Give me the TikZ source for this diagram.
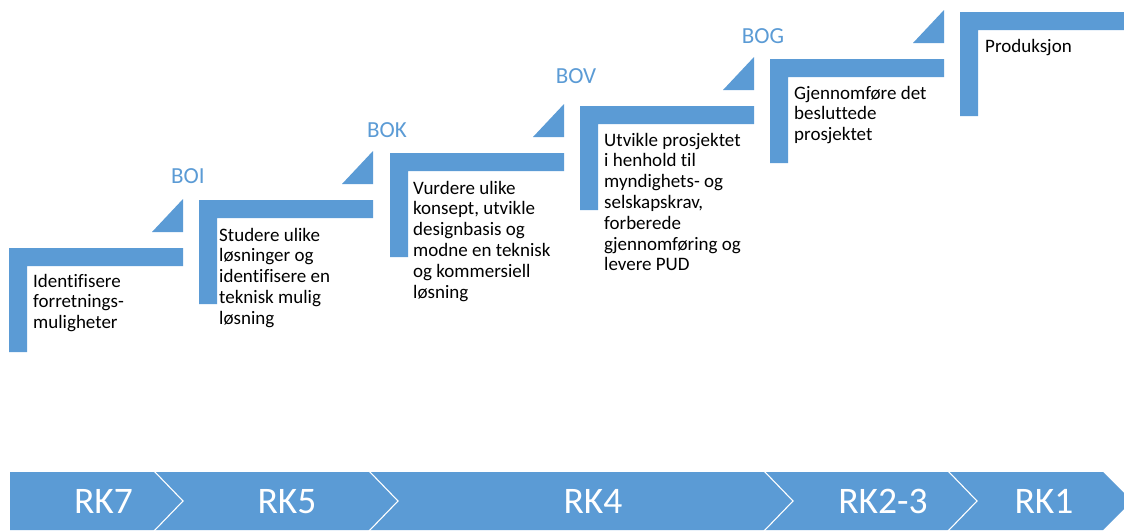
\documentclass[tikz,border=0pt]{standalone}
\usepackage{fontspec}
\setmainfont{Carlito}[Ligatures=NoCommon]
\definecolor{officeblue}{HTML}{5B9BD5}
\newcommand{\lines}[1]{\begin{tabular}[t]{@{}l@{}}#1\end{tabular}}
\tikzset{
  stepbar/.style={fill=officeblue, draw=none},
  steptext/.style={anchor=base west, inner sep=0pt, text=black,
    font=\fontsize{19}{20.8}\selectfont},
  gatelabel/.style={anchor=base, inner sep=0pt, text=officeblue,
    font=\fontsize{23}{26}\selectfont},
  phaselabel/.style={anchor=base, inner sep=0pt, text=white,
    font=\fontsize{37.5}{40}\selectfont},
  chevsep/.style={draw=white, line width=1.1pt}
}
\begin{document}
\begin{tikzpicture}[x=1pt,y=-1pt]
\useasboundingbox (0,0) rectangle (1124,530);
\clip (0,0) rectangle (1124,530);
% step shapes (L-shapes) and triangles
\foreach \xa/\ta/\tri in {9/248/1, 199/200/1, 390/153/1, 580/106/1, 770/59/1, 960/12/0}{
  \fill[stepbar] (\xa,\ta) -- ++(174,0) -- ++(0,18) -- ++(-156,0) -- ++(0,86) -- ++(-18,0) -- cycle;
  \ifnum\tri=1
    \fill[stepbar] (\xa+143,\ta-16) -- (\xa+174,\ta-16) -- (\xa+174,\ta-49) -- cycle;
  \fi
}
% step texts
\node[steptext] (t1) at (33,287) {\lines{Identifisere\\forretnings-\\muligheter}};
\node[steptext] (t2) at (219,241) {\lines{Studere ulike\\løsninger og\\identifisere en\\teknisk mulig\\løsning}};
\node[steptext] (t3) at (413,194) {\lines{Vurdere ulike\\konsept, utvikle\\designbasis og\\modne en teknisk\\og kommersiell\\løsning}};
\node[steptext] (t4) at (604,146) {\lines{Utvikle prosjektet\\i henhold til\\myndighets- og\\selskapskrav,\\forberede\\gjennomføring og\\levere PUD}};
\node[steptext] (t5) at (794,99) {\lines{Gjennomføre det\\besluttede\\prosjektet}};
\node[steptext] (t6) at (985,52) {\lines{Produksjon}};
% gate labels
\node[gatelabel] (b1) at (188,183) {BOI};
\node[gatelabel] (b2) at (387,137) {BOK};
\node[gatelabel] (b3) at (576,83) {BOV};
\node[gatelabel] (b4) at (763,43) {BOG};
% bottom phase bar
\fill[officeblue] (10,472) -- (1103,472) -- (1132,501) -- (1103,530) -- (10,530) -- cycle;
\foreach \c in {154,369,764,948}{
  \draw[chevsep] (\c,471) -- (\c+29,501) -- (\c,531);
}
\node[phaselabel] (r1) at (103.5,513) {RK7};
\node[phaselabel] (r2) at (287,513) {RK5};
\node[phaselabel] (r3) at (593,513) {RK4};
\node[phaselabel] (r4) at (883,513) {RK2-3};
\node[phaselabel] (r5) at (1044,513) {RK1};
\end{tikzpicture}
\end{document}
